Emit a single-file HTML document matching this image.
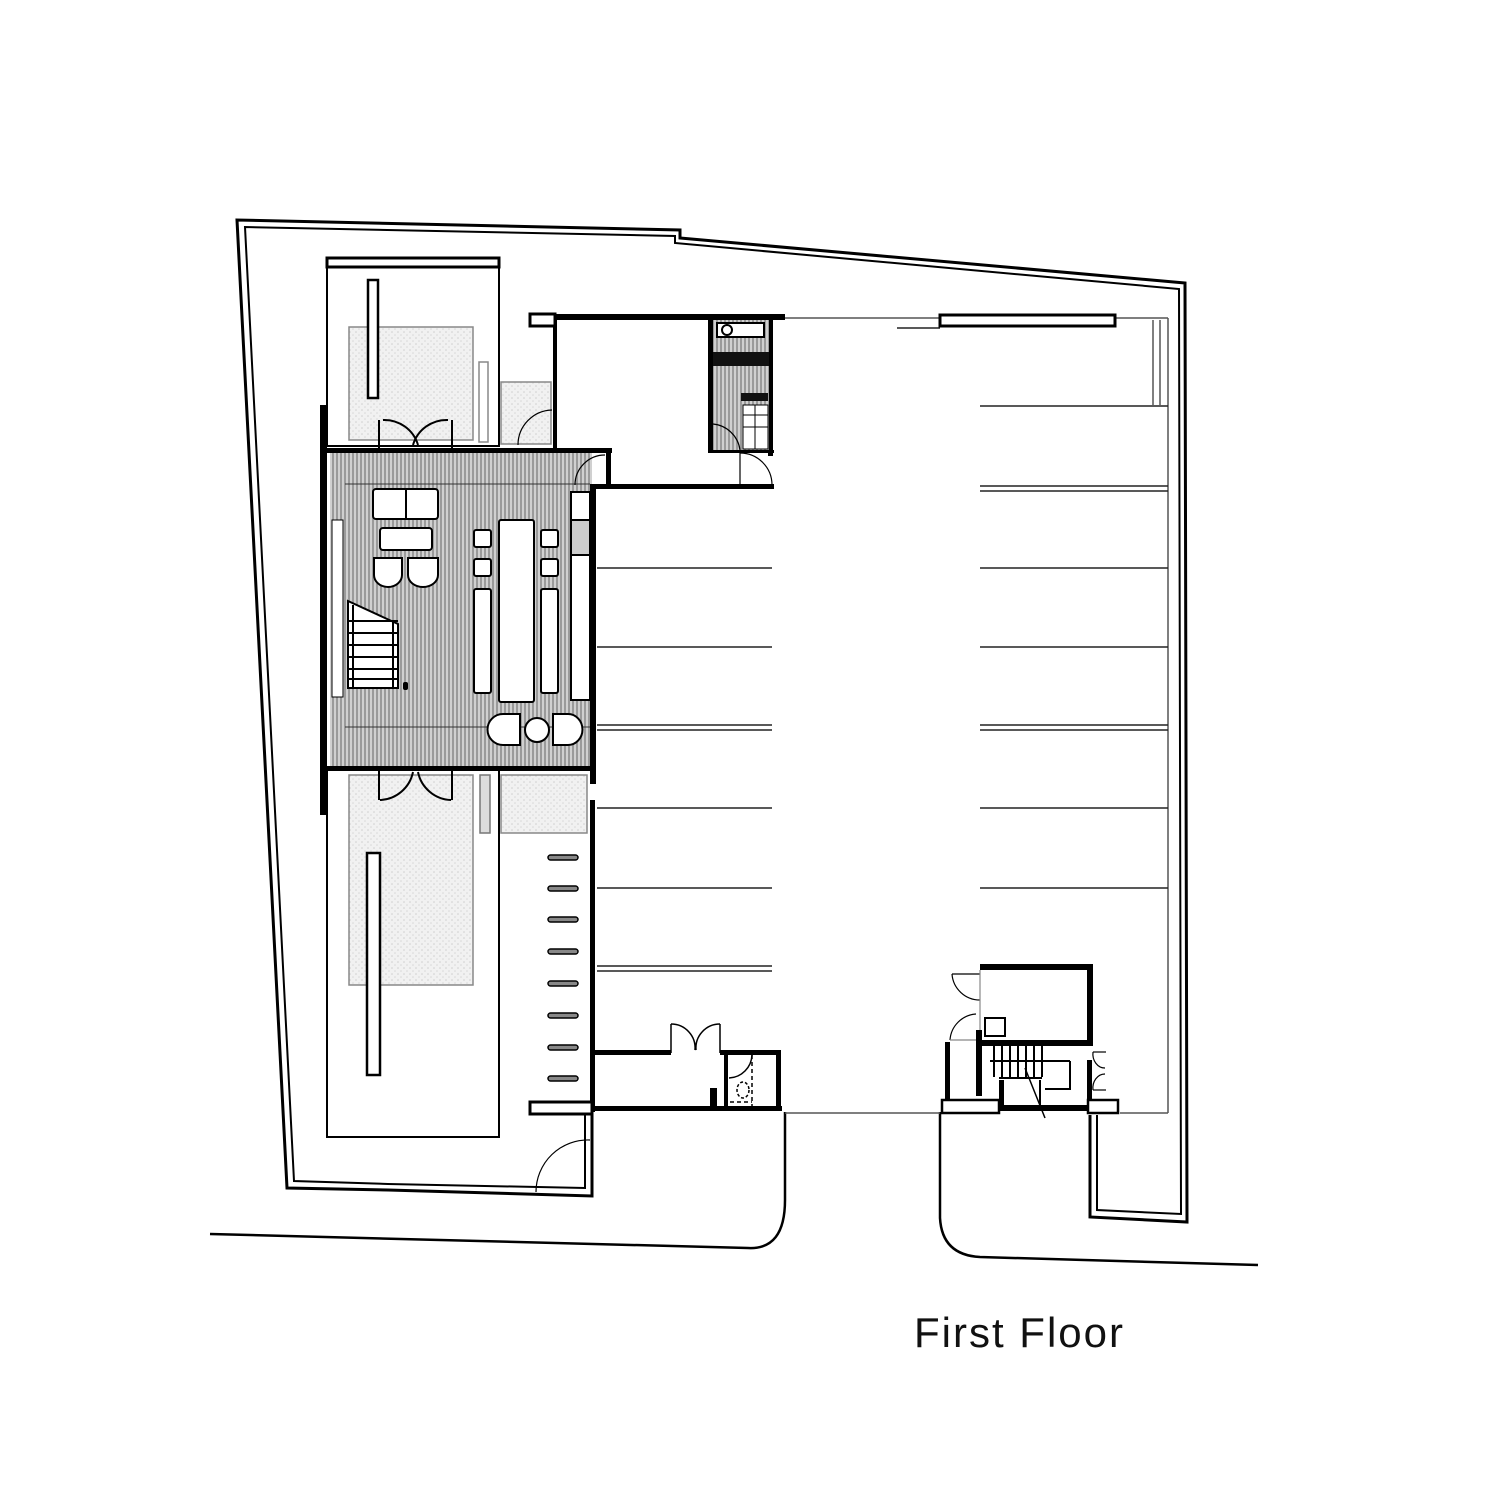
<!DOCTYPE html>
<html><head><meta charset="utf-8"><style>
html,body{margin:0;padding:0;background:#fff;}
svg{display:block;}
text{font-family:"Liberation Sans",sans-serif;}
</style></head><body>
<svg width="1500" height="1500" viewBox="0 0 1500 1500" xmlns="http://www.w3.org/2000/svg">
<defs>
<pattern id="stripe" width="4" height="10" patternUnits="userSpaceOnUse">
<rect width="4" height="10" fill="#d0d0d0"/><rect width="2" height="10" fill="#9a9a9a"/>
</pattern>
<pattern id="dots" width="6" height="6" patternUnits="userSpaceOnUse">
<rect width="6" height="6" fill="#f1f1f1"/><circle cx="2" cy="2" r="0.8" fill="#cfcfcf"/><circle cx="5" cy="5" r="0.8" fill="#d8d8d8"/>
</pattern>
</defs>
<rect width="1500" height="1500" fill="#fff"/>

<g fill="none" stroke="#000">
<polyline stroke-width="3" points="592,1110 592,1196 388,1190 287,1188 237,220 680,230 680,238 1185,283 1187,1222 1090,1217 1090,1115"/>
<polyline stroke-width="2" points="585,1110 585,1188 388,1184 294,1181 245,227 675,236 675,243 1179,289 1181,1214 1097,1210 1097,1115"/>
<path stroke-width="2.5" d="M210,1234 L748,1248 Q785,1250 785,1200 L785,1112"/>
<path stroke-width="2.5" d="M940,1112 L940,1218 Q942,1255 980,1257 L1258,1265"/>
</g>

<g stroke="#555" stroke-width="1.5" fill="none">
<line x1="785" y1="318" x2="1168" y2="318"/>
<line x1="1168" y1="318" x2="1168" y2="1113"/>
<line x1="785" y1="1113" x2="940" y2="1113"/>
<line x1="1120" y1="1113" x2="1168" y2="1113"/>
<line x1="1153" y1="320" x2="1153" y2="405"/>
<line x1="1160" y1="320" x2="1160" y2="405"/>
</g>
<g stroke="#222" stroke-width="1.5">
<line x1="597" y1="568" x2="772" y2="568"/>
<line x1="597" y1="647" x2="772" y2="647"/>
<line x1="597" y1="725" x2="772" y2="725"/><line x1="597" y1="730" x2="772" y2="730"/>
<line x1="597" y1="808" x2="772" y2="808"/>
<line x1="597" y1="888" x2="772" y2="888"/>
<line x1="597" y1="966" x2="772" y2="966"/><line x1="597" y1="971" x2="772" y2="971"/>
<line x1="980" y1="406" x2="1168" y2="406"/>
<line x1="980" y1="486" x2="1168" y2="486"/><line x1="980" y1="491" x2="1168" y2="491"/>
<line x1="980" y1="568" x2="1168" y2="568"/>
<line x1="980" y1="647" x2="1168" y2="647"/>
<line x1="980" y1="725" x2="1168" y2="725"/><line x1="980" y1="730" x2="1168" y2="730"/>
<line x1="980" y1="808" x2="1168" y2="808"/>
<line x1="980" y1="888" x2="1168" y2="888"/>
<line x1="897" y1="328" x2="940" y2="328"/>
</g>
<rect x="940" y="315" width="175" height="11" fill="#fff" stroke="#000" stroke-width="3"/>

<rect x="327" y="258" width="172" height="188" fill="#fff" stroke="#000" stroke-width="2"/>
<rect x="327" y="258" width="172" height="9" fill="#fff" stroke="#000" stroke-width="3"/>
<rect x="349" y="327" width="124" height="113" fill="url(#dots)" stroke="#888" stroke-width="1.5"/>
<rect x="368" y="280" width="10" height="118" fill="#fff" stroke="#000" stroke-width="2.5"/>
<rect x="479" y="362" width="9" height="80" fill="#fff" stroke="#888" stroke-width="1.5"/>
<rect x="501" y="382" width="50" height="62" fill="url(#dots)" stroke="#888" stroke-width="1.5"/>
<g fill="none" stroke="#000" stroke-width="2">
<line x1="379" y1="420" x2="379" y2="450"/><line x1="452" y1="420" x2="452" y2="450"/>
<path d="M383,420 A35,35 0 0 1 418,445"/><path d="M448,420 A35,35 0 0 0 413,445"/>
<path d="M552,410 A35,35 0 0 0 518,445" stroke-width="1.2"/>
</g>

<rect x="327" y="768" width="172" height="369" fill="#fff" stroke="#000" stroke-width="2"/>
<rect x="349" y="775" width="124" height="210" fill="url(#dots)" stroke="#888" stroke-width="1.5"/>
<rect x="367" y="853" width="13" height="222" fill="#fff" stroke="#000" stroke-width="2.5"/>
<rect x="480" y="775" width="10" height="58" fill="#ddd" stroke="#777" stroke-width="1.5"/>
<rect x="501" y="775" width="86" height="58" fill="url(#dots)" stroke="#888" stroke-width="1.5"/>
<g fill="none" stroke="#000" stroke-width="2">
<line x1="379" y1="765" x2="379" y2="800"/><line x1="452" y1="765" x2="452" y2="800"/>
<path d="M380,800 A35,35 0 0 0 413,772"/><path d="M451,800 A35,35 0 0 1 418,772"/>
<path d="M590,1140 A52,52 0 0 0 536,1192" stroke-width="1.2"/>
</g>
<g fill="#888" stroke="#000" stroke-width="1.5">
<rect x="548" y="855" width="30" height="5" rx="2.5"/><rect x="548" y="886" width="30" height="5" rx="2.5"/>
<rect x="548" y="917" width="30" height="5" rx="2.5"/><rect x="548" y="949" width="30" height="5" rx="2.5"/>
<rect x="548" y="981" width="30" height="5" rx="2.5"/><rect x="548" y="1013" width="30" height="5" rx="2.5"/>
<rect x="548" y="1045" width="30" height="5" rx="2.5"/><rect x="548" y="1076" width="30" height="5" rx="2.5"/>
</g>

<rect x="330" y="452" width="262" height="316" fill="url(#stripe)"/>
<g fill="#000">
<rect x="320" y="405" width="7" height="410"/>
<rect x="327" y="448" width="285" height="5"/>
<rect x="327" y="766" width="268" height="5"/>
<rect x="590" y="484" width="6" height="300"/>
<rect x="590" y="800" width="5" height="312"/>
<rect x="606" y="448" width="5" height="40"/>
</g>
<rect x="332" y="520" width="11" height="177" fill="#fff" stroke="#000" stroke-width="1"/>
<g stroke="#333" stroke-width="1" fill="none">
<line x1="345" y1="484" x2="590" y2="484"/><line x1="345" y1="727" x2="590" y2="727"/>
</g>
<g fill="#fff" stroke="#000" stroke-width="2">
<rect x="373" y="489" width="65" height="30" rx="3"/>
<line x1="406" y1="489" x2="406" y2="519"/>
<rect x="380" y="528" width="52" height="22" rx="3"/>
<path d="M374,558 H402 V575 A14,12 0 0 1 374,575 Z"/>
<path d="M408,558 H438 V575 A15,12 0 0 1 408,575 Z"/>
<rect x="499" y="520" width="35" height="182" rx="2"/>
<rect x="474" y="530" width="17" height="17" rx="2"/><rect x="474" y="559" width="17" height="17" rx="2"/>
<rect x="541" y="530" width="17" height="17" rx="2"/><rect x="541" y="559" width="17" height="17" rx="2"/>
<rect x="474" y="589" width="17" height="104" rx="2"/><rect x="541" y="589" width="17" height="104" rx="2"/>
<rect x="571" y="492" width="19" height="208"/>
<rect x="571" y="520" width="19" height="35" fill="#ccc"/>
<path d="M520,714 V745 H503 A15,15 0 0 1 503,714 Z"/>
<circle cx="537" cy="730" r="12"/>
<path d="M553,714 V745 H568 A14,15 0 0 0 568,714 Z"/>
<path d="M348,601 L398,624 V688 H348 Z"/>
</g>
<g stroke="#000" stroke-width="2">
<line x1="348" y1="621" x2="398" y2="621"/><line x1="348" y1="633" x2="398" y2="633"/>
<line x1="348" y1="645" x2="398" y2="645"/><line x1="348" y1="657" x2="398" y2="657"/>
<line x1="348" y1="669" x2="398" y2="669"/><line x1="348" y1="679" x2="398" y2="679"/>
<line x1="353" y1="605" x2="353" y2="688"/><line x1="393" y1="622" x2="393" y2="688"/>
</g>
<rect x="403" y="682" width="5" height="8" rx="2" fill="#000"/>
<path d="M605,455 A30,30 0 0 0 575,485" fill="none" stroke="#000" stroke-width="1.2"/>

<g fill="#000">
<rect x="530" y="314" width="255" height="6"/>
<rect x="553" y="314" width="4" height="136"/>
<rect x="592" y="484" width="182" height="5"/>
<rect x="708" y="316" width="6" height="135"/>
<rect x="768" y="316" width="5" height="140"/>
</g>
<rect x="530" y="314" width="25" height="12" fill="#fff" stroke="#000" stroke-width="3"/>
<rect x="713" y="320" width="56" height="130" fill="url(#stripe)"/>
<rect x="713" y="352" width="56" height="14" fill="#111"/>
<rect x="717" y="323" width="47" height="14" fill="#fff" stroke="#000" stroke-width="2"/>
<circle cx="727" cy="330" r="5" fill="none" stroke="#000" stroke-width="2"/>
<rect x="741" y="393" width="27" height="8" fill="#111"/>
<g fill="#fff" stroke="#000" stroke-width="1"><rect x="743" y="405" width="25" height="44"/>
<line x1="743" y1="415" x2="768" y2="415"/><line x1="743" y1="427" x2="768" y2="427"/><line x1="755" y1="405" x2="755" y2="449"/></g>
<rect x="708" y="450" width="66" height="3" fill="#000"/>
<g fill="none" stroke="#000" stroke-width="1.2">
<path d="M772,485 A32,32 0 0 0 740,453"/>
<line x1="740" y1="453" x2="740" y2="485"/>
<path d="M740,450 A30,30 0 0 0 713,424"/>
</g>

<g fill="#000">
<rect x="593" y="1050" width="78" height="5"/>
<rect x="720" y="1050" width="60" height="5"/>
<rect x="592" y="1106" width="190" height="5"/>
<rect x="724" y="1050" width="4" height="60"/>
<rect x="776" y="1050" width="5" height="60"/>
<rect x="710" y="1088" width="7" height="20"/>
</g>
<rect x="530" y="1102" width="62" height="12" fill="#fff" stroke="#000" stroke-width="3"/>
<g fill="none" stroke="#000" stroke-width="1.5">
<line x1="671" y1="1024" x2="671" y2="1053"/><line x1="720" y1="1024" x2="720" y2="1053"/>
<path d="M671,1024 A24,24 0 0 1 695,1050"/><path d="M720,1024 A24,24 0 0 0 696,1050"/>
<path d="M752,1055 A24,24 0 0 1 729,1078"/>
<line x1="752" y1="1055" x2="752" y2="1106" stroke-dasharray="4,3"/>
<line x1="730" y1="1102" x2="752" y2="1102" stroke-dasharray="4,3"/>
<ellipse cx="743" cy="1090" rx="6" ry="8" stroke-dasharray="3,2"/>
</g>

<g fill="#000">
<rect x="980" y="964" width="113" height="6"/>
<rect x="1087" y="964" width="6" height="82"/>
<rect x="976" y="1030" width="6" height="66"/>
<rect x="976" y="1040" width="117" height="6"/>
<rect x="945" y="1042" width="5" height="64"/>
<rect x="942" y="1105" width="150" height="6"/>
<rect x="999" y="1080" width="5" height="28"/>
<rect x="1087" y="1060" width="5" height="50"/>
</g>
<rect x="985" y="1018" width="20" height="18" fill="#fff" stroke="#000" stroke-width="2"/>
<rect x="1088" y="1100" width="30" height="13" fill="#fff" stroke="#000" stroke-width="2.5"/>
<rect x="942" y="1100" width="57" height="13" fill="#fff" stroke="#000" stroke-width="2.5"/>
<g stroke="#000" stroke-width="2" fill="none">
<line x1="994" y1="1046" x2="994" y2="1077"/><line x1="1002" y1="1046" x2="1002" y2="1077"/>
<line x1="1010" y1="1046" x2="1010" y2="1077"/><line x1="1018" y1="1046" x2="1018" y2="1077"/>
<line x1="1026" y1="1046" x2="1026" y2="1077"/><line x1="1034" y1="1046" x2="1034" y2="1077"/>
<line x1="1042" y1="1046" x2="1042" y2="1077"/>
<line x1="990" y1="1061" x2="1070" y2="1061"/>
<polyline points="1070,1061 1070,1089 1045,1089"/>
<line x1="999" y1="1078" x2="1042" y2="1078"/>
<line x1="1025" y1="1068" x2="1045" y2="1118" stroke-width="1.5"/>
<line x1="1040" y1="1080" x2="1040" y2="1108"/>
</g>
<g fill="none" stroke="#000" stroke-width="1.2">
<line x1="952" y1="974" x2="980" y2="974"/>
<path d="M952,974 A28,28 0 0 0 980,1000"/>
<path d="M950,1040 A28,28 0 0 1 976,1014"/>
<line x1="950" y1="1040" x2="976" y2="1040" stroke="#888"/>
<line x1="980" y1="970" x2="980" y2="1030" stroke="#888"/>
<path d="M1093,1052 A12,14 0 0 0 1105,1068"/><path d="M1093,1090 A12,14 0 0 1 1105,1074"/>
<line x1="1093" y1="1052" x2="1106" y2="1052"/><line x1="1093" y1="1090" x2="1106" y2="1090"/>
</g>

<text x="914" y="1347" font-size="42" letter-spacing="2" fill="#111">First Floor</text>
</svg>
</body></html>
